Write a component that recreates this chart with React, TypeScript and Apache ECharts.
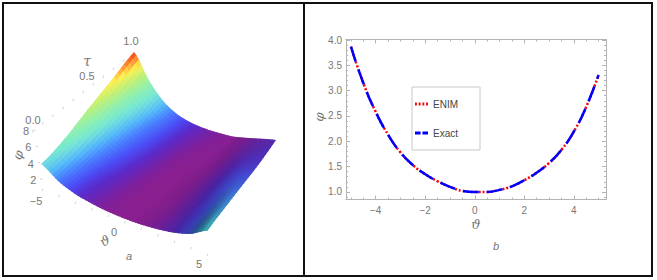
import React, { useEffect, useRef } from "react";
import * as echarts from "echarts";

// ---------- panel b data ----------
const thetaB = [-5, -4.5, -4, -3.5, -3, -2.5, -2, -1.5, -1, -0.5, 0, 0.5, 1, 1.5, 2, 2.5, 3, 3.5, 4, 4.5, 5];
const enim = [3.87, 3.15, 2.58, 2.13, 1.78, 1.53, 1.35, 1.21, 1.1, 1.02, 1.0, 1.0, 1.04, 1.11, 1.23, 1.38, 1.57, 1.83, 2.19, 2.68, 3.31];
const exact = [3.87, 3.15, 2.58, 2.13, 1.78, 1.53, 1.35, 1.21, 1.1, 1.02, 1.0, 1.0, 1.04, 1.11, 1.23, 1.38, 1.57, 1.83, 2.19, 2.68, 3.31];
const xMajor = [-4, -2, 0, 2, 4];
const xMinor = [-5, -4.5, -3.5, -3, -2.5, -1.5, -1, -0.5, 0.5, 1, 1.5, 2.5, 3, 3.5, 4.5, 5];
const yMajor = [1, 1.5, 2, 2.5, 3, 3.5, 4];
const yMinor = [0.9, 1.1, 1.2, 1.3, 1.4, 1.6, 1.7, 1.8, 1.9, 2.1, 2.2, 2.3, 2.4, 2.6, 2.7, 2.8, 2.9, 3.1, 3.2, 3.3, 3.4, 3.6, 3.7, 3.8, 3.9];

// ---------- panel a data: phi(theta, tau) ----------
const thetaA = [-5, -4, -3, -2, -1, 0, 1, 2, 3, 4, 5];
const tauA = [0, 0.25, 0.5, 0.75, 1];
const phiTau0 = [3.87, 2.58, 1.78, 1.35, 1.1, 1.0, 1.04, 1.23, 1.57, 2.19, 3.31];
const phiTau25 = [4.7, 3.0, 2.0, 1.5, 1.18, 1.0, 1.0, 1.15, 1.5, 2.05, 2.8];
const phiTau50 = [5.95, 3.6, 2.4, 1.75, 1.3, 1.05, 1.0, 1.12, 1.42, 1.9, 2.25];
const phiTau75 = [7.0, 4.4, 2.85, 2.05, 1.5, 1.18, 1.05, 1.05, 1.28, 1.6, 1.75];
const phiTau100 = [8.0, 5.45, 3.55, 2.4, 1.75, 1.38, 1.18, 1.07, 1.18, 1.35, 1.5];
const phiTable = [phiTau0, phiTau25, phiTau50, phiTau75, phiTau100];
const thetaTicks = [-5, 0, 5];
const thetaMinorTicks = [-4, -3, -2, -1, 1, 2, 3, 4];
const tauTicks = [0, 0.5, 1];
const tauMinorTicks = [0.1, 0.2, 0.3, 0.4, 0.6, 0.7, 0.8, 0.9];
const phiTicks = [2, 4, 6, 8];

const colorLevels = [1.0, 1.15, 1.3, 1.6, 2.0, 2.6, 3.2, 3.87, 4.2, 5.0, 6.0, 6.9, 7.3, 7.7, 8.0];
const colorStops = ["#8a2090", "#82209a", "#7224ac", "#5a2ccc", "#4c4cf5", "#4a80ff", "#55b8fa", "#70dce0", "#78e8d0", "#90f0b0", "#c0f078", "#fff050", "#ffb040", "#f87028", "#e83a20"];

// ---------- projection constants (screen px) ----------
const PHI0 = 0.5;
const F00 = [42, 191];
const F10 = [207, 253];
const F01 = [134, 125];
const F11 = [275, 150];

function project(theta: number, tau: number, phi: number): [number, number] {
  const u = (theta + 5) / 10;
  const a = F00[0] + (F10[0] - F00[0]) * u;
  const b = F01[0] + (F11[0] - F01[0]) * u;
  const c = F00[1] + (F10[1] - F00[1]) * u;
  const d = F01[1] + (F11[1] - F01[1]) * u;
  const s = 8 + 1.6 * tau;
  return [a + (b - a) * tau, c + (d - c) * tau - (phi - PHI0) * s];
}

function crom(arr: number[], t: number) {
  const n = arr.length - 1;
  const i = Math.min(Math.floor(t), n - 1);
  const f = t - i;
  const p0 = arr[Math.max(i - 1, 0)], p1 = arr[i], p2 = arr[i + 1], p3 = arr[Math.min(i + 2, n)];
  return 0.5 * (2 * p1 + (p2 - p0) * f + (2 * p0 - 5 * p1 + 4 * p2 - p3) * f * f + (3 * p1 - p0 - 3 * p2 + p3) * f * f * f);
}

function phiAt(theta: number, tau: number) {
  const ti = theta + 5;
  const col = phiTable.map((r) => crom(r, ti));
  return crom(col, tau * 4);
}

function hex(c: string) {
  return [parseInt(c.slice(1, 3), 16), parseInt(c.slice(3, 5), 16), parseInt(c.slice(5, 7), 16)];
}

function colorFor(phi: number, slope: number, theta: number) {
  let i = 0;
  while (i < colorLevels.length - 2 && phi > colorLevels[i + 1]) i++;
  const f = Math.max(0, Math.min(1, (phi - colorLevels[i]) / (colorLevels[i + 1] - colorLevels[i])));
  const a = hex(colorStops[i]);
  const b = hex(colorStops[i + 1]);
  const shade = (1 - Math.min(0.38, Math.max(0, slope) * 0.33)) * (1 - Math.max(0, theta - 2) * 0.03);
  const gShade = Math.min(1, shade + 0.1 * Math.max(0, theta - 3));
  const m = a.map((v, k) => Math.round((v + (b[k] - v) * f) * (k === 1 ? gShade : shade)));
  return `rgb(${m[0]},${m[1]},${m[2]})`;
}

const NT = 6;
const NU = 7;
function buildCells() {
  const cells: number[][] = [];
  for (let j = (tauA.length - 1) * NU - 1; j >= 0; j--) {
    for (let i = 0; i < (thetaA.length - 1) * NT; i++) {
      const t0 = -5 + i / NT, t1 = -5 + (i + 1) / NT;
      const u0 = j / (4 * NU), u1 = (j + 1) / (4 * NU);
      cells.push([t0, t1, u0, u1]);
    }
  }
  return cells;
}

const greyText = "#777777";
const fontFamily = "'Liberation Sans', Arial, sans-serif";

function makeOption(): any {
  const frameAxis = (dim: "x" | "y", position: string, custom: number[], len: number, labels: boolean, min: number, max: number) => ({
    type: "value",
    gridIndex: 1,
    position,
    min,
    max,
    splitLine: { show: false },
    axisLine: { show: true, onZero: false, lineStyle: { color: "#b4b4b4", width: 1 } },
    axisTick: { show: true, inside: true, length: len, customValues: custom, lineStyle: { color: "#b4b4b4" } },
    axisLabel: labels
      ? {
          show: true,
          customValues: custom,
          color: greyText,
          fontSize: 10,
          fontFamily,
          margin: dim === "x" ? 6 : 4,
          formatter: (v: number) => (dim === "x" ? String(v) : v.toFixed(1)).replace("-", "\u2212"),
        }
      : { show: false },
  });
  const xr = [-5.2, 5.3];
  const yr = [0.85, 4.01];
  const xAxes = [
    { type: "value", gridIndex: 0, min: 0, max: 657, show: false },
    frameAxis("x", "bottom", xMajor, 4, true, xr[0], xr[1]),
    frameAxis("x", "bottom", xMinor, 2, false, xr[0], xr[1]),
    frameAxis("x", "top", xMajor, 4, false, xr[0], xr[1]),
    frameAxis("x", "top", xMinor, 2, false, xr[0], xr[1]),
  ];
  const yAxes = [
    { type: "value", gridIndex: 0, min: 0, max: 280, inverse: true, show: false },
    frameAxis("y", "left", yMajor, 4, true, yr[0], yr[1]),
    frameAxis("y", "left", yMinor, 2, false, yr[0], yr[1]),
    frameAxis("y", "right", yMajor, 4, false, yr[0], yr[1]),
    frameAxis("y", "right", yMinor, 2, false, yr[0], yr[1]),
  ];

  const surfaceRender = (_p: any, api: any) => {
    const t0 = api.value(0), t1 = api.value(1), u0 = api.value(2), u1 = api.value(3);
    const pts = [[t0, u0], [t1, u0], [t1, u1], [t0, u1]].map(([t, u]) => api.coord(project(t, u, phiAt(t, u))));
    const tm = (t0 + t1) / 2, um = (u0 + u1) / 2;
    const slope = phiAt(Math.min(tm + 0.1, 5), um) - phiAt(Math.max(tm - 0.1, -5), um);
    const col = colorFor(phiAt(tm, um), slope / 0.2, tm);
    return { type: "polygon", shape: { points: pts }, style: { fill: col, stroke: col, lineWidth: 1.2 } };
  };

  const greyLine = { stroke: "#d4d4d4", lineWidth: 1 };
  const thetaAxisPoint = (t: number) => [42 + (165 * (t + 5)) / 10, 191 + (65 * (t + 5)) / 10];
  const tauAxisPoint = (t: number) => [33 + 101 * t, 130 - 78 * t];
  const phiAxisPoint = (p: number) => [42 - (9 * (p - PHI0)) / 7.5, 191 - 8.13 * (p - PHI0)];
  const seg = (api: any, a: number[], b: number[]) => {
    const p = api.coord(a), q = api.coord(b);
    return { type: "line", shape: { x1: p[0], y1: p[1], x2: q[0], y2: q[1] }, style: greyLine };
  };
  const label = (api: any, text: string, x: number, y: number, extra: any = {}) => {
    const p = api.coord([x, y]);
    return {
      type: "text",
      x: p[0],
      y: p[1],
      style: { text, fill: greyText, fontSize: 11, fontFamily, align: "center", verticalAlign: "middle", ...extra },
    };
  };
  const axisData = [
    ...thetaTicks.map((v) => ["theta", v, 1]),
    ...thetaMinorTicks.map((v) => ["theta", v, 0]),
    ...tauTicks.map((v) => ["tau", v, 1]),
    ...tauMinorTicks.map((v) => ["tau", v, 0]),
    ...phiTicks.map((v) => ["phi", v, 1]),
  ];
  const axisRender = (params: any, api: any) => {
    const [kind, v, major] = axisData[params.dataIndex] as [string, number, number];
    const children: any[] = [];
    if (kind === "theta") {
      const p = thetaAxisPoint(v);
      children.push(seg(api, p, [p[0] + 1, p[1] - 2.5]));
      if (major) {
        const pos = v === -5 ? [36, 201] : v === 0 ? [114, 231.5] : [199, 264];
        children.push(label(api, String(v).replace("-", "\u2212"), pos[0], pos[1]));
      }
    } else if (kind === "tau") {
      const p = tauAxisPoint(v);
      children.push(seg(api, p, [p[0] - 0.5, p[1] + 2.5]));
      if (major) {
        const pos = v === 0 ? [33, 119.5] : v === 0.5 ? [87, 76] : [131, 41];
        children.push(label(api, v.toFixed(1), pos[0], pos[1]));
      }
    } else {
      const p = phiAxisPoint(v);
      children.push(seg(api, p, [p[0] + 2.5, p[1] + 0.5]));
      children.push(label(api, String(v), p[0] - 7, p[1] + 1));
    }
    return { type: "group", children };
  };

  return {
    animation: false,
    backgroundColor: "#ffffff",
    grid: [
      { left: 0, top: 0, width: 657, height: 280 },
      { left: 346, top: 39.5, width: 260, height: 160 },
    ],
    xAxis: xAxes,
    yAxis: yAxes,
    legend: {
      show: true,
      left: 412,
      top: 87,
      orient: "vertical",
      align: "left",
      backgroundColor: "#ffffff",
      borderColor: "#c8c8c8",
      borderWidth: 1,
      padding: [12, 22, 12, 3],
      itemGap: 19,
      itemWidth: 13,
      itemHeight: 3,
      textStyle: { color: "#444444", fontSize: 10, fontFamily },
      data: [
        { name: "ENIM", icon: "path://M0 0h2v3H0zM4 0h2v3H4zM8 0h2v3H8zM12 0h2v3h-2z" },
        { name: "Exact", icon: "path://M0 0h6v3H0zM8 0h6v3H8z" },
      ],
    },
    series: [
      {
        type: "line",
        name: "ENIM",
        xAxisIndex: 1,
        yAxisIndex: 1,
        data: thetaB.map((t, i) => [t, enim[i]]),
        smooth: true,
        showSymbol: false,
        symbol: "none",
        lineStyle: { color: "#ff0000", width: 2.5, type: [2, 2] },
        itemStyle: { color: "#ff0000" },
        z: 3,
      },
      {
        type: "line",
        name: "Exact",
        xAxisIndex: 1,
        yAxisIndex: 1,
        data: thetaB.map((t, i) => [t, exact[i]]),
        smooth: true,
        showSymbol: false,
        symbol: "none",
        lineStyle: { color: "#0000ff", width: 2.5, type: [16, 8] },
        itemStyle: { color: "#0000ff" },
        z: 4,
      },
      {
        type: "custom",
        name: "axes",
        xAxisIndex: 0,
        yAxisIndex: 0,
        clip: false,
        silent: true,
        data: axisData.map((_, i) => [i]),
        renderItem: axisRender,
        z: 1,
      },
      {
        type: "custom",
        name: "surface",
        xAxisIndex: 0,
        yAxisIndex: 0,
        clip: false,
        silent: true,
        data: buildCells(),
        encode: { x: 0, y: 2 },
        renderItem: surfaceRender,
        z: 2,
      },
    ],
    graphic: [
      { type: "rect", silent: true, z: 100, shape: { x: 3, y: 3, width: 649, height: 273 }, style: { fill: "none", stroke: "#111111", lineWidth: 2 } },
      { type: "line", silent: true, z: 100, shape: { x1: 304, y1: 3, x2: 304, y2: 276 }, style: { stroke: "#111111", lineWidth: 2 } },
      ...[
        { t: "\u03c4", x: 87, y: 61, fs: 14, r: 0, serif: true },
        { t: "\u03c6", x: 18, y: 155, fs: 13, r: 1.2, serif: true },
        { t: "\u03d1", x: 105, y: 241, fs: 13, r: 0.45, serif: true },
        { t: "a", x: 129, y: 256, fs: 11, r: 0, serif: false },
        { t: "\u03c6", x: 319, y: 117, fs: 13, r: 1.45, serif: true },
        { t: "\u03d1", x: 476, y: 224, fs: 13, r: 0, serif: true },
        { t: "b", x: 496, y: 246, fs: 11, r: 0, serif: false },
      ].map((d) => ({
        type: "text",
        silent: true,
        z: 101,
        x: d.x,
        y: d.y,
        rotation: d.r,
        style: {
          text: d.t,
          fill: greyText,
          fontSize: d.fs,
          fontStyle: "italic",
          fontFamily: d.serif ? "'DejaVu Serif', 'Liberation Serif', serif" : fontFamily,
          align: "center",
          verticalAlign: "middle",
        },
      })),
    ],
  };
}

export default function App() {
  const ref = useRef<HTMLDivElement>(null);
  useEffect(() => {
    document.body.style.margin = "0";
    const chart = echarts.init(ref.current!, undefined, { renderer: "svg" });
    chart.setOption(makeOption());
    return () => chart.dispose();
  }, []);
  return <div ref={ref} style={{ width: 657, height: 280 }} />;
}
